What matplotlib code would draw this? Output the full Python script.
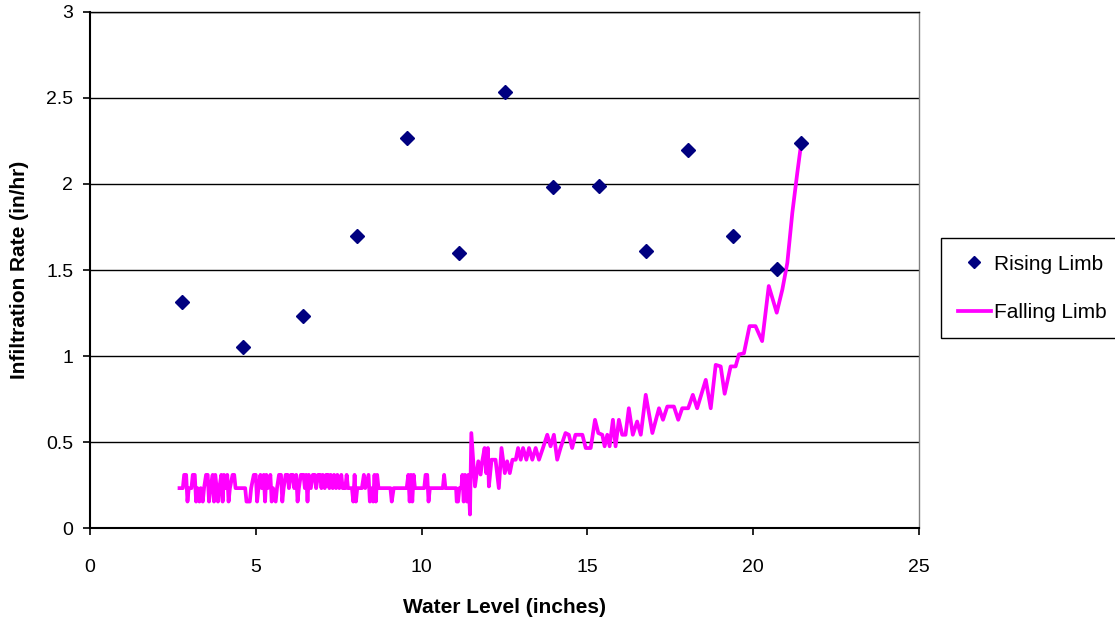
import matplotlib
matplotlib.use("Agg")
import matplotlib.pyplot as plt

plt.rcParams['font.family'] = ['Liberation Sans', 'DejaVu Sans']

# Rising limb: water level (in) vs infiltration rate (in/hr)
rise_x = [2.76, 4.62, 6.41, 8.06, 9.57, 11.14, 12.52, 13.95, 15.35, 16.77, 18.03, 19.39, 20.72, 21.45]
rise_y = [1.317, 1.054, 1.234, 1.695, 2.269, 1.599, 2.533, 1.98, 1.99, 1.61, 2.20, 1.695, 1.505, 2.239]

# Falling limb (low part toggles between three levels)
fall_x = [2.70, 2.80, 2.84, 2.90, 2.94, 2.98, 3.06, 3.10, 3.16, 3.20, 3.24, 3.30, 3.34, 3.40,
          3.44, 3.50, 3.55, 3.59, 3.63, 3.70, 3.74, 3.78, 3.82, 3.86, 3.90, 3.96, 4.00, 4.04,
          4.08, 4.14, 4.18, 4.22, 4.30, 4.35, 4.39, 4.68, 4.72, 4.82, 4.86, 4.94, 5.00, 5.04,
          5.08, 5.14, 5.18, 5.24, 5.28, 5.32, 5.36, 5.44, 5.48, 5.52, 5.60, 5.64, 5.70, 5.76,
          5.80, 5.84, 5.90, 5.96, 6.00, 6.06, 6.12, 6.16, 6.22, 6.26, 6.30, 6.36, 6.44, 6.48,
          6.52, 6.56, 6.60, 6.66, 6.72, 6.78, 6.82, 6.88, 6.94, 6.98, 7.02, 7.08, 7.12, 7.18,
          7.22, 7.26, 7.32, 7.36, 7.42, 7.46, 7.52, 7.58, 7.62, 7.70, 7.74, 7.78, 7.90, 7.94,
          7.98, 8.02, 8.06, 8.20, 8.26, 8.30, 8.40, 8.44, 8.48, 8.54, 8.58, 8.62, 8.66, 8.70,
          9.06, 9.10, 9.16, 9.55, 9.60, 9.64, 9.68, 9.72, 9.76, 9.80, 10.08, 10.12, 10.17, 10.21,
          10.25, 10.64, 10.68, 10.72, 11.04, 11.06, 11.10, 11.14, 11.20, 11.23, 11.27, 11.31, 11.35, 11.37,
          11.41, 11.46, 11.50, 11.61, 11.71, 11.78, 11.83, 11.90, 11.95, 12.00, 12.03, 12.11, 12.23, 12.33,
          12.41, 12.51, 12.58, 12.66, 12.74, 12.84, 12.91, 12.99, 13.06, 13.16, 13.24, 13.34, 13.44, 13.54,
          13.66, 13.79, 13.89, 13.99, 14.09, 14.19, 14.34, 14.44, 14.54, 14.64, 14.85, 14.95, 15.10, 15.23,
          15.33, 15.45, 15.52, 15.60, 15.67, 15.77, 15.85, 15.95, 16.05, 16.15, 16.25, 16.37, 16.50, 16.61,
          16.76, 16.96, 17.16, 17.28, 17.41, 17.61, 17.74, 17.86, 18.04, 18.18, 18.31, 18.57, 18.72, 18.87,
          19.02, 19.14, 19.32, 19.47, 19.57, 19.72, 19.89, 20.07, 20.27, 20.47, 20.71, 20.88, 21.03, 21.18,
          21.33, 21.45]
fall_y = [0.233, 0.233, 0.31, 0.31, 0.155, 0.233, 0.233, 0.31, 0.31, 0.155, 0.233, 0.155, 0.233, 0.155,
          0.233, 0.31, 0.31, 0.155, 0.233, 0.31, 0.155, 0.31, 0.233, 0.155, 0.233, 0.31, 0.155, 0.31,
          0.233, 0.31, 0.155, 0.233, 0.31, 0.31, 0.233, 0.233, 0.155, 0.155, 0.233, 0.31, 0.31, 0.155,
          0.233, 0.31, 0.233, 0.31, 0.155, 0.31, 0.233, 0.31, 0.155, 0.233, 0.155, 0.233, 0.31, 0.31,
          0.155, 0.233, 0.31, 0.31, 0.233, 0.31, 0.31, 0.233, 0.31, 0.155, 0.233, 0.31, 0.31, 0.233,
          0.31, 0.155, 0.31, 0.233, 0.31, 0.31, 0.233, 0.31, 0.31, 0.233, 0.31, 0.233, 0.31, 0.31,
          0.233, 0.31, 0.233, 0.31, 0.233, 0.31, 0.233, 0.31, 0.233, 0.233, 0.31, 0.233, 0.233, 0.155,
          0.31, 0.155, 0.233, 0.233, 0.31, 0.233, 0.31, 0.155, 0.233, 0.155, 0.31, 0.155, 0.31, 0.233,
          0.233, 0.155, 0.233, 0.233, 0.31, 0.155, 0.31, 0.155, 0.31, 0.233, 0.233, 0.31, 0.31, 0.155,
          0.233, 0.233, 0.31, 0.233, 0.233, 0.155, 0.155, 0.233, 0.233, 0.31, 0.155, 0.31, 0.233, 0.155,
          0.31, 0.08, 0.553, 0.243, 0.389, 0.312, 0.389, 0.466, 0.320, 0.466, 0.243, 0.398, 0.398, 0.233,
          0.466, 0.320, 0.389, 0.320, 0.398, 0.398, 0.466, 0.398, 0.466, 0.398, 0.466, 0.398, 0.466, 0.398,
          0.466, 0.543, 0.476, 0.543, 0.398, 0.466, 0.553, 0.543, 0.466, 0.543, 0.543, 0.466, 0.466, 0.630,
          0.553, 0.543, 0.476, 0.543, 0.476, 0.630, 0.476, 0.630, 0.543, 0.543, 0.697, 0.543, 0.620, 0.543,
          0.775, 0.553, 0.697, 0.630, 0.707, 0.707, 0.630, 0.697, 0.697, 0.775, 0.697, 0.862, 0.697, 0.949,
          0.940, 0.781, 0.940, 0.940, 1.010, 1.016, 1.174, 1.174, 1.087, 1.407, 1.252, 1.387, 1.542, 1.832,
          2.064, 2.239]

x_ticks = [0, 5, 10, 15, 20, 25]
y_ticks = [0, 0.5, 1, 1.5, 2, 2.5, 3]
y_tick_labels = ['0', '0.5', '1', '1.5', '2', '2.5', '3']

fig = plt.figure(figsize=(11.15, 6.2), dpi=100)
ax = fig.add_axes([0.0807, 0.148, 0.7435, 0.833])

ax.plot(fall_x, fall_y, color='#FF00FF', linewidth=2.7, solid_joinstyle='round',
        label='Falling Limb', zorder=3)
ax.plot(rise_x, rise_y, linestyle='none', marker='D', markersize=7.0,
        color='#000080', label='Rising Limb', zorder=4)

ax.set_xlim(0, 25)
ax.set_ylim(0, 3)
ax.set_xticks(x_ticks)
ax.set_yticks(y_ticks)
ax.set_yticklabels(y_tick_labels)
ax.tick_params(axis='x', labelsize=14, length=5, width=1.2, pad=17, direction='out')
ax.tick_params(axis='y', labelsize=14, length=5, width=1.2, pad=7, direction='out')

ax.grid(axis='y', color='black', linewidth=1.0)
ax.set_axisbelow(True)
for side in ['left', 'bottom']:
    ax.spines[side].set_linewidth(1.5)
    ax.spines[side].set_color('black')
ax.spines['top'].set_linewidth(1.0)
ax.spines['right'].set_color('#808080')
ax.spines['right'].set_linewidth(1.0)

ax.set_xlabel('Water Level (inches)', fontsize=15, fontweight='bold')
ax.set_ylabel('Infiltration Rate (in/hr)', fontsize=15, fontweight='bold')
ax.xaxis.set_label_coords(0.5, -0.135)
ax.yaxis.set_label_coords(-0.074, 0.5)

handles, labels = ax.get_legend_handles_labels()
leg = fig.legend(handles[::-1], labels[::-1], loc='upper left',
                 bbox_to_anchor=(941 / 1115, 1 - 238 / 620), fontsize=15,
                 frameon=True, fancybox=False, framealpha=1, edgecolor='black',
                 handlelength=1.6, handletextpad=0.15, labelspacing=1.4,
                 borderpad=0.8, borderaxespad=0, markerscale=0.85)
leg.get_frame().set_linewidth(1.0)

fig.savefig('out.png', dpi=100)
